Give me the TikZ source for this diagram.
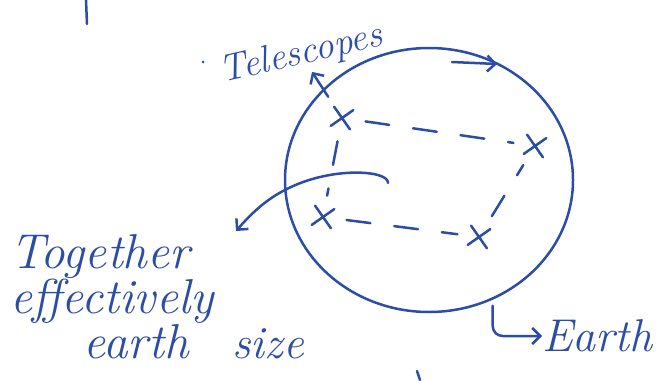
\documentclass[tikz,border=0pt]{standalone}
\usepackage{xcolor}
\usepackage{tikz}
\usetikzlibrary{arrows.meta,positioning,calc,shapes.geometric,shapes.misc}
\definecolor{ink}{HTML}{2C4DA6}
\tikzset{
  pen/.style={draw=ink, line width=2.5pt, line cap=round},
  arr/.style={pen, -{Straight Barb[length=8pt, width=16pt, line width=2.5pt]}},
  tdash/.style={pen, dash pattern=on 24pt off 24pt, shorten <=14pt, shorten >=12pt},
  tscope/.style={cross out, draw=ink, line width=2.5pt, line cap=round, minimum size=17pt, inner sep=0pt, rotate=-10},
  hand/.style={text=ink, inner sep=0pt, font=\itshape\fontsize{#1}{40}\selectfont},
}

\begin{document}
\begin{tikzpicture}[x=1pt, y=-1pt]
    \useasboundingbox (0,0) rectangle (663,380);
    \node[pen, ellipse, minimum width=288pt, minimum height=264pt, inner sep=0pt] (globe) at (429,180) {};
    \node[tscope] (t1) at (342,118) {};
    \node[tscope] (t2) at (535,146) {};
    \node[tscope] (t3) at (323,217) {};
    \node[tscope] (t4) at (479,237) {};
    \node[hand=38, rotate=13] (tel) at (301,55) {Telescopes};
    \node[hand=49, align=left, anchor=north west] (lblTog) at (10,234) {Together\\effectively\\\hspace*{1.5em}earth\hspace{0.9em}{\fontsize{46}{40}\selectfont size}};
    \node[hand=46, anchor=west] (lblEarth) at (542,336) {Earth};
    \coordinate (spinA) at (452,62);
    \coordinate (spinB) at (497,64);
    \coordinate (sweep) at (388,183);
    \coordinate (sweepTip) at (236,231);
    \draw[tdash] (t1)--(t2); \draw[tdash] (t1)--(t3); \draw[tdash] (t3)--(t4); \draw[tdash] (t4)--(t2);
    \draw[arr, shorten <=12pt, shorten >=2pt] (t1)--(tel);
    \draw[arr] (spinA)--(spinB);
    \draw[arr] (sweep) .. controls (389,170) and (330,166) .. (285,190) .. controls (265,200) and (250,215) .. (sweepTip);
    \draw[arr, rounded corners=10pt] ([yshift=-6pt]globe.-62) |- (lblEarth.west);
    \fill[ink] (203,62) circle (1.5pt);
    \draw[pen] (86,0)--(87,24);
    \draw[pen] (417,371)--(420,380);
  \end{tikzpicture}
\end{document}
